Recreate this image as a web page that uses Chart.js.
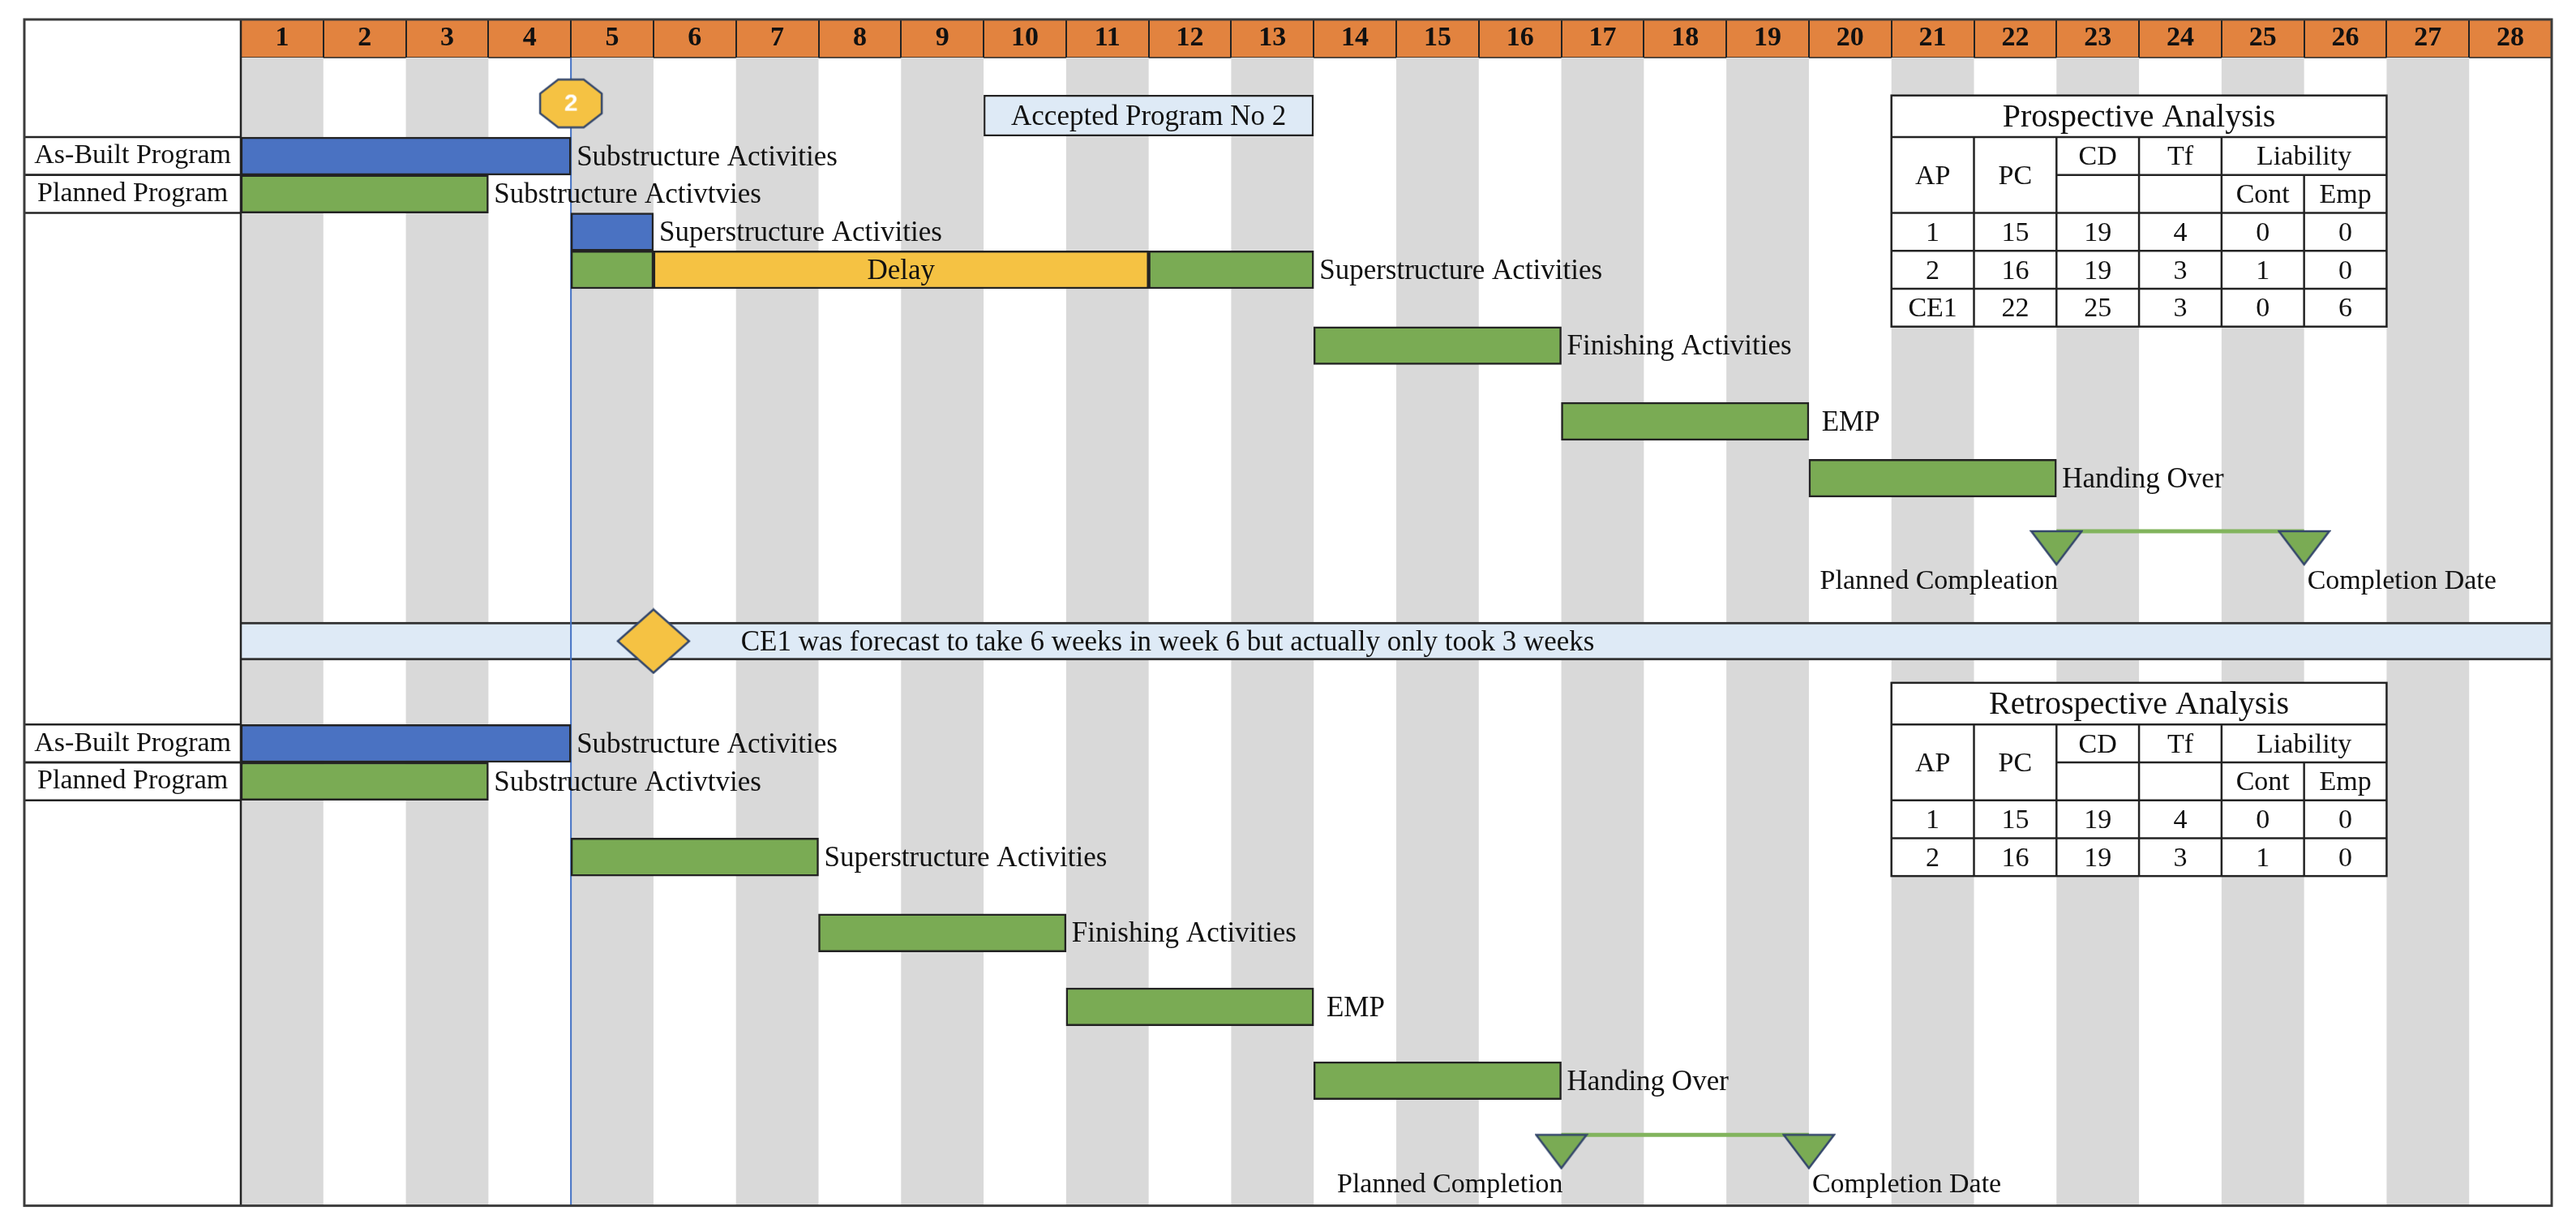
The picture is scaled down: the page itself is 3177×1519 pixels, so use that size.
<!DOCTYPE html>
<html>
<head>
<meta charset="utf-8">
<title>Accepted Programme No 2 - Prospective vs Retrospective</title>
<script src="https://cdn.jsdelivr.net/npm/chart.js@4.4.1/dist/chart.umd.min.js"></script>
<style>
  html, body { margin: 0; padding: 0; background: #ffffff; }
  #wrap { width: 3177px; height: 1519px; }
</style>
</head>
<body>
<div id="wrap"><canvas id="gantt" width="3177" height="1519"></canvas></div>
<script>
// ---- data ----
const weekLabels = ['1', '2', '3', '4', '5', '6', '7', '8', '9', '10', '11', '12', '13', '14',
                    '15', '16', '17', '18', '19', '20', '21', '22', '23', '24', '25', '26', '27', '28'];
const programLabels = ['As-Built Program', 'Planned Program', 'As-Built Program', 'Planned Program'];
const programRows = [0, 1, 15.5, 16.5];

const dataDate = 4;
const acceptedProgram = '2';
const acceptedNote = 'Accepted Program No 2';
const acceptedWeeks = [9, 13];
const acceptedRow = -1.07;
const markerRow = -1.39;

// as-built bars (blue)
const builtNames = ['Substructure Activities', 'Superstructure Activities', 'Substructure Activities'];
const builtStart = [0, 4, 0];
const builtEnd = [4, 5, 4];
const builtRows = [0, 2, 15.5];

// planned bars (green)
const planNames = ['Substructure Activtvies', '', 'Superstructure Activities', 'Finishing Activities', ' EMP', 'Handing Over',
                   'Substructure Activtvies', 'Superstructure Activities', 'Finishing Activities', ' EMP', 'Handing Over'];
const planStart = [0, 4, 11, 13, 16, 19, 0, 4, 7, 10, 13];
const planEnd = [3, 5, 13, 16, 19, 22, 3, 7, 10, 13, 16];
const planRows = [1, 3, 3, 5, 7, 8.5, 16.5, 18.5, 20.5, 22.45, 24.4];

// delay bar (yellow)
const delayNames = ['Delay'];
const delayStart = [5];
const delayEnd = [11];
const delayRows = [3];

// compensation event band
const ceNote = 'CE1 was forecast to take 6 weeks in week 6 but actually only took 3 weeks';
const ceWeek = 5;
const ceRow = 12.8;

// completion milestones
const prospectiveMilestones = ['Planned Compleation', 'Completion Date'];
const prospectiveMilestoneWeeks = [22, 25];
const prospectiveMilestoneRow = 9.9;
const retroMilestones = ['Planned Completion', 'Completion Date'];
const retroMilestoneWeeks = [16, 19];
const retroMilestoneRow = 25.83;

// analysis tables
const tableHeads = ['AP', 'PC', 'CD', 'Tf', 'Liability'];
const tableSubHeads = ['Cont', 'Emp'];
const prospectiveRows = [
    ['1', '15', '19', '4', '0', '0'],
    ['2', '16', '19', '3', '1', '0'],
    ['CE1', '22', '25', '3', '0', '6']
];
const retroRows = [
    ['1', '15', '19', '4', '0', '0'],
    ['2', '16', '19', '3', '1', '0']
];
const tableWeek = 20;

// ---- look ----
const FONT = '"Liberation Serif", "Times New Roman", serif';
const INK = '#111111';
const LINE = '#232323';
const BLUE = '#4a72c2';
const GREEN = '#7aab54';
const GOLD = '#f5c243';
const PALE = '#deeaf6';
const ORANGE = '#e2833f';
const STRIPE = '#d9d9d9';
const NAVY = '#34476b';
const yMin = -2.6;
const yMax = 27.7;

Chart.defaults.font.family = FONT;
Chart.defaults.color = INK;

function makeOctagon(text) {
    const c = document.createElement('canvas');
    c.width = 82; c.height = 66;
    const g = c.getContext('2d');
    const cx = 41, cy = 33, hx = 38, hy = 29.5, k = Math.cos(Math.PI / 8);
    g.beginPath();
    for (let i = 0; i < 8; i++) {
        const a = Math.PI / 8 + i * Math.PI / 4;
        const px = cx + hx * Math.cos(a) / k;
        const py = cy + hy * Math.sin(a) / k;
        if (i) g.lineTo(px, py); else g.moveTo(px, py);
    }
    g.closePath();
    g.fillStyle = GOLD; g.fill();
    g.lineWidth = 2.5; g.strokeStyle = NAVY; g.stroke();
    g.fillStyle = '#ffffff';
    g.font = 'bold 30px "Liberation Sans", Arial, sans-serif';
    g.textAlign = 'center'; g.textBaseline = 'middle';
    g.fillText(text, cx, cy + 1);
    return c;
}

function makeDiamond() {
    const c = document.createElement('canvas');
    c.width = 92; c.height = 82;
    const g = c.getContext('2d');
    g.beginPath();
    g.moveTo(2, 41); g.lineTo(46, 2); g.lineTo(90, 41); g.lineTo(46, 80);
    g.closePath();
    g.fillStyle = GOLD; g.fill();
    g.lineWidth = 2.5; g.strokeStyle = NAVY; g.stroke();
    return c;
}

// triangle hangs below the point, so the point sits on its top edge
function makeTriangle() {
    const c = document.createElement('canvas');
    c.width = 66; c.height = 86;
    const g = c.getContext('2d');
    g.beginPath();
    g.moveTo(2, 43); g.lineTo(64, 43); g.lineTo(33, 84);
    g.closePath();
    g.fillStyle = GREEN; g.fill();
    g.lineWidth = 2.5; g.strokeStyle = NAVY; g.stroke();
    return c;
}

const toBars = (start, end, rows) => start.map((s, i) => ({ x: [s, end[i]], y: rows[i] }));
const toPoints = (weeks, row) => weeks.map(w => ({ x: w, y: row }));

const barStyle = { borderColor: LINE, borderWidth: 2.5, borderSkipped: false, order: 3 };
const triangle = makeTriangle();

// header, stripes, tables and texts
const ganttDecor = {
    id: 'ganttDecor',
    beforeDraw(chart) {
        const { ctx, chartArea: a, scales: { x } } = chart;
        ctx.save();
        ctx.fillStyle = ORANGE;
        ctx.fillRect(a.left, x.top, a.right - a.left, x.bottom - x.top);
        ctx.strokeStyle = LINE;
        ctx.lineWidth = 2;
        for (let w = 1; w < weekLabels.length; w++) {
            const px = Math.round(x.getPixelForValue(w));
            ctx.beginPath(); ctx.moveTo(px, x.top); ctx.lineTo(px, x.bottom); ctx.stroke();
        }
        ctx.lineWidth = 1.5;
        ctx.beginPath(); ctx.moveTo(a.left, x.bottom); ctx.lineTo(a.right, x.bottom); ctx.stroke();
        ctx.restore();
    },
    beforeDatasetsDraw(chart) {
        const { ctx, chartArea: a, scales: { x } } = chart;
        ctx.save();
        ctx.fillStyle = STRIPE;
        for (let w = 0; w < weekLabels.length; w += 2) {
            const x0 = x.getPixelForValue(w), x1 = x.getPixelForValue(w + 1);
            ctx.fillRect(x0, a.top, x1 - x0, a.bottom - a.top);
        }
        ctx.restore();
    },
    afterDatasetsDraw(chart) {
        const { ctx, scales: { x, y } } = chart;
        ctx.save();
        ctx.fillStyle = INK;
        ctx.textBaseline = 'middle';
        ctx.font = '35px ' + FONT;

        // bar texts
        chart.data.datasets.forEach((ds, di) => {
            if (!ds.taskNames) return;
            chart.getDatasetMeta(di).data.forEach((bar, i) => {
                const name = ds.taskNames[i];
                if (!name) return;
                if (ds.labelInside) {
                    ctx.textAlign = 'center';
                    ctx.fillText(name, (bar.x + bar.base) / 2, bar.y + 2);
                } else {
                    ctx.textAlign = 'left';
                    ctx.fillText(name, Math.max(bar.x, bar.base) + 7, bar.y + 2);
                }
            });
        });

        // milestone texts under the triangles
        ctx.font = '34px ' + FONT;
        chart.data.datasets.forEach((ds, di) => {
            if (!ds.milestoneNames) return;
            chart.getDatasetMeta(di).data.forEach((pt, i) => {
                ctx.textAlign = i === 0 ? 'right' : 'left';
                ctx.fillText(ds.milestoneNames[i], pt.x + (i === 0 ? 2 : 4),
                    y.getPixelForValue(ds.data[i].y + 1.33));
            });
        });

        // CE1 band note
        ctx.font = '35px ' + FONT;
        ctx.textAlign = 'left';
        ctx.fillText(ceNote, x.getPixelForValue(ceWeek + 1) + 6, y.getPixelForValue(ceRow) + 2);

        drawTable(chart, 'Prospective Analysis', prospectiveRows, 0);
        drawTable(chart, 'Retrospective Analysis', retroRows, 15.5);
        ctx.restore();
    },
    afterDraw(chart) {
        const { ctx, chartArea: a, scales: { x, y } } = chart;
        ctx.save();
        ctx.strokeStyle = LINE;
        // program name boxes in the left column
        ctx.lineWidth = 2.5;
        programRows.forEach(r => {
            [r - 0.5, r + 0.5].forEach(v => {
                const py = y.getPixelForValue(v);
                ctx.beginPath(); ctx.moveTo(y.left, py); ctx.lineTo(a.left, py); ctx.stroke();
            });
        });
        // left column divider
        ctx.beginPath(); ctx.moveTo(a.left, x.top); ctx.lineTo(a.left, a.bottom); ctx.stroke();
        // frame
        ctx.strokeStyle = '#3c3c3c';
        ctx.lineWidth = 3;
        ctx.strokeRect(y.left, x.top, a.right - y.left, a.bottom - x.top);
        ctx.restore();
    }
};

function drawTable(chart, title, rows, headRow) {
    const { ctx, scales: { x, y } } = chart;
    const xs = [];
    for (let k = 0; k <= 6; k++) xs.push(x.getPixelForValue(tableWeek + k));
    const yTitle = y.getPixelForValue(headRow - 1.6);
    const yHead = y.getPixelForValue(headRow - 0.5);
    const yMid = y.getPixelForValue(headRow + 0.5);
    const yBody = y.getPixelForValue(headRow + 1.5);
    const yRow = r => y.getPixelForValue(headRow + 1.5 + r);
    const yEnd = yRow(rows.length);
    const hLine = (py, x0, x1) => { ctx.beginPath(); ctx.moveTo(x0, py); ctx.lineTo(x1, py); ctx.stroke(); };
    const vLine = (px, y0, y1) => { ctx.beginPath(); ctx.moveTo(px, y0); ctx.lineTo(px, y1); ctx.stroke(); };
    const mid = (p, q) => (p + q) / 2;

    ctx.save();
    ctx.fillStyle = '#ffffff';
    ctx.fillRect(xs[0], yTitle, xs[6] - xs[0], yEnd - yTitle);
    ctx.strokeStyle = LINE;
    ctx.lineWidth = 2.5;
    ctx.strokeRect(xs[0], yTitle, xs[6] - xs[0], yEnd - yTitle);
    hLine(yHead, xs[0], xs[6]);
    hLine(yMid, xs[2], xs[6]);
    hLine(yBody, xs[0], xs[6]);
    for (let r = 1; r < rows.length; r++) hLine(yRow(r), xs[0], xs[6]);
    for (let k = 1; k < 6; k++) vLine(xs[k], k === 5 ? yMid : yHead, yEnd);

    ctx.fillStyle = INK;
    ctx.textAlign = 'center';
    ctx.textBaseline = 'middle';
    ctx.font = '40px ' + FONT;
    ctx.fillText(title, mid(xs[0], xs[6]), mid(yTitle, yHead) + 2);
    ctx.font = '34px ' + FONT;
    ctx.fillText(tableHeads[0], mid(xs[0], xs[1]), mid(yHead, yBody) + 2);
    ctx.fillText(tableHeads[1], mid(xs[1], xs[2]), mid(yHead, yBody) + 2);
    ctx.fillText(tableHeads[2], mid(xs[2], xs[3]), mid(yHead, yMid) + 2);
    ctx.fillText(tableHeads[3], mid(xs[3], xs[4]), mid(yHead, yMid) + 2);
    ctx.fillText(tableHeads[4], mid(xs[4], xs[6]), mid(yHead, yMid) + 2);
    ctx.fillText(tableSubHeads[0], mid(xs[4], xs[5]), mid(yMid, yBody) + 2);
    ctx.fillText(tableSubHeads[1], mid(xs[5], xs[6]), mid(yMid, yBody) + 2);
    rows.forEach((row, r) => {
        row.forEach((cell, k) => {
            ctx.fillText(cell, mid(xs[k], xs[k + 1]), mid(yRow(r), yRow(r + 1)) + 2);
        });
    });
    ctx.restore();
}

new Chart(document.getElementById('gantt'), {
    type: 'bar',
    data: {
        datasets: [
            Object.assign({
                label: 'As-Built Program',
                data: toBars(builtStart, builtEnd, builtRows),
                taskNames: builtNames,
                backgroundColor: BLUE
            }, barStyle),
            Object.assign({
                label: 'Planned Program',
                data: toBars(planStart, planEnd, planRows),
                taskNames: planNames,
                backgroundColor: GREEN
            }, barStyle),
            Object.assign({
                label: 'Delay',
                data: toBars(delayStart, delayEnd, delayRows),
                taskNames: delayNames,
                labelInside: true,
                backgroundColor: GOLD
            }, barStyle),
            Object.assign({
                label: 'Accepted Program',
                data: [{ x: acceptedWeeks, y: acceptedRow }],
                taskNames: [acceptedNote],
                labelInside: true,
                backgroundColor: PALE,
                barPercentage: 1.09
            }, barStyle),
            {
                label: 'CE1',
                data: [{ x: [0, weekLabels.length], y: ceRow }],
                backgroundColor: PALE,
                borderColor: '#333333',
                borderWidth: { top: 3, bottom: 3, left: 0, right: 0 },
                borderSkipped: false,
                order: 6
            },
            {
                type: 'line',
                label: 'Data date',
                data: [{ x: dataDate, y: yMin }, { x: dataDate, y: yMax }],
                borderColor: '#4472c4',
                borderWidth: 2,
                pointRadius: 0,
                order: 5
            },
            {
                type: 'line',
                label: 'Prospective completion',
                data: toPoints(prospectiveMilestoneWeeks, prospectiveMilestoneRow),
                milestoneNames: prospectiveMilestones,
                borderColor: '#82b45d',
                borderWidth: 5,
                pointStyle: triangle,
                pointRadius: 2,
                order: 1
            },
            {
                type: 'line',
                label: 'Retrospective completion',
                data: toPoints(retroMilestoneWeeks, retroMilestoneRow),
                milestoneNames: retroMilestones,
                borderColor: '#82b45d',
                borderWidth: 5,
                pointStyle: triangle,
                pointRadius: 2,
                order: 1
            },
            {
                type: 'line',
                label: 'CE1 event',
                data: [{ x: ceWeek, y: ceRow }],
                showLine: false,
                pointStyle: makeDiamond(),
                pointRadius: 2,
                order: 0
            },
            {
                type: 'line',
                label: 'Accepted programme marker',
                data: [{ x: dataDate, y: markerRow }],
                showLine: false,
                pointStyle: makeOctagon(acceptedProgram),
                pointRadius: 2,
                order: 0
            }
        ]
    },
    options: {
        indexAxis: 'y',
        responsive: false,
        devicePixelRatio: 1,
        animation: false,
        events: [],
        grouped: false,
        barPercentage: 1,
        categoryPercentage: 1,
        layout: { padding: { left: 30, top: 24, right: 30, bottom: 31 } },
        plugins: {
            legend: { display: false },
            tooltip: { enabled: false }
        },
        scales: {
            x: {
                type: 'linear',
                position: 'top',
                min: 0,
                max: weekLabels.length,
                offset: false,
                grid: { display: false, drawTicks: false, offset: false },
                border: { display: false },
                afterBuildTicks: s => { s.ticks = weekLabels.map((_, i) => ({ value: i + 0.5 })); },
                afterFit: s => { s.height = 47; },
                ticks: {
                    autoSkip: false,
                    maxRotation: 0,
                    padding: 3,
                    color: INK,
                    font: { size: 34, weight: 'bold', family: FONT },
                    callback: (v, i) => weekLabels[i]
                }
            },
            y: {
                type: 'linear',
                reverse: true,
                min: yMin,
                max: yMax,
                offset: false,
                grid: { display: false, drawTicks: false, offset: false },
                border: { display: false },
                afterBuildTicks: s => { s.ticks = programRows.map(v => ({ value: v })); },
                afterFit: s => { s.width = 267; },
                ticks: {
                    autoSkip: false,
                    crossAlign: 'center',
                    padding: 12,
                    color: INK,
                    font: { size: 34, family: FONT },
                    callback: (v, i) => programLabels[i]
                }
            }
        }
    },
    plugins: [ganttDecor]
});
</script>
</body>
</html>
